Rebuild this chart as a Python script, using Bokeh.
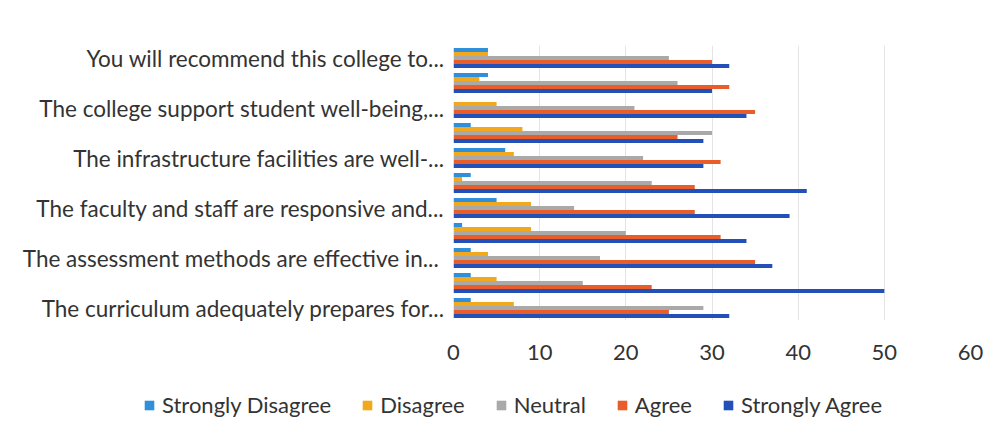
from bokeh.plotting import figure
from bokeh.layouts import column
from bokeh.models import Range1d, FixedTicker, Legend, LegendItem, ColumnDataSource
from bokeh.transform import dodge
from bokeh.embed import file_html
from bokeh.resources import INLINE

# Categories listed bottom -> top (11 survey items; only every other label is shown on the axis)
item_index = list(range(11))
tick_labels = [
    "The curriculum adequately prepares for...",
    "The assessment methods are  effective in...",
    "The faculty and staff are responsive and...",
    "The infrastructure facilities are well-...",
    "The college support student well-being,...",
    "You will recommend this college to...",
]
x_ticks = [0, 10, 20, 30, 40, 50, 60]

series_names = ["Strongly Disagree", "Disagree", "Neutral", "Agree", "Strongly Agree"]
strongly_disagree = [2, 2, 2, 1, 5, 2, 6, 2, 0, 4, 4]
disagree = [7, 5, 4, 9, 9, 1, 7, 8, 5, 3, 4]
neutral = [29, 15, 17, 20, 14, 23, 22, 30, 21, 26, 25]
agree = [25, 23, 35, 31, 28, 28, 31, 26, 35, 32, 30]
strongly_agree = [32, 50, 37, 34, 39, 41, 29, 29, 34, 30, 32]

colors = ["#2F8FDB", "#F2A81D", "#A9A9A9", "#E85D2A", "#2350B8"]
FONT = "Lato"
TEXT = "#333333"

source = ColumnDataSource(dict(
    y=item_index,
    sd=strongly_disagree, d=disagree, n=neutral, a=agree, sa=strongly_agree,
))
cols = ["sd", "d", "n", "a", "sa"]
offsets = [0.32, 0.16, 0.0, -0.16, -0.32]

# ---------------- main chart ----------------
p = figure(width=987, height=373,
           x_range=Range1d(0, 60), y_range=Range1d(-0.5, 10.5),
           output_backend="svg", toolbar_location=None,
           min_border_left=453, min_border_right=17,
           min_border_top=45, min_border_bottom=53)
p.outline_line_color = None
p.background_fill_color = "white"
p.border_fill_color = "white"

for col, off, c in zip(cols, offsets, colors):
    p.hbar(y=dodge("y", off, range=p.y_range), right=col, left=0, height=0.155,
           source=source, fill_color=c, line_color=None)

p.ygrid.visible = False
p.xgrid.ticker = FixedTicker(ticks=x_ticks)
p.xgrid.grid_line_color = "#E4E4E4"
p.xgrid.grid_line_width = 1

xa = p.xaxis[0]
xa.ticker = FixedTicker(ticks=x_ticks)
xa.axis_line_color = None
xa.major_tick_line_color = None
xa.minor_tick_line_color = None
xa.major_label_standoff = 18
xa.major_label_text_font = FONT
xa.major_label_text_font_size = "22px"
xa.major_label_text_color = TEXT

ya = p.yaxis[0]
label_ticks = item_index[::2]
ya.ticker = FixedTicker(ticks=label_ticks)
ya.major_label_overrides = {t: lab for t, lab in zip(label_ticks, tick_labels)}
ya.axis_line_color = None
ya.major_tick_line_color = None
ya.minor_tick_line_color = None
ya.major_label_standoff = 3
ya.major_label_text_font = FONT
ya.major_label_text_font_size = "22.5px"
ya.major_label_text_color = TEXT

# ---------------- legend strip ----------------
# Same bars, but the ranges keep them out of view; only the legend is seen.
lg = figure(width=987, height=56, x_range=Range1d(1000, 1001), y_range=Range1d(1000, 1001),
            output_backend="svg", toolbar_location=None,
            x_axis_type=None, y_axis_type=None,
            min_border=0, min_border_left=0, min_border_right=0,
            min_border_top=0, min_border_bottom=0)
lg.outline_line_color = None
lg.grid.visible = False
lg.border_fill_color = "white"
lg.background_fill_color = "white"
for fig in (p, lg):
    if "frame_align" in fig.properties():
        fig.frame_align = False

items = []
for name, col, c in zip(series_names, cols, colors):
    r = lg.hbar(y="y", right=col, left=0, height=0.155, source=source,
                fill_color=c, line_color=None)
    items.append(LegendItem(label=name, renderers=[r]))

legend = Legend(
    items=items,
    orientation="horizontal",
    location=(143, 11),
    border_line_color=None,
    background_fill_alpha=0,
    glyph_width=12, glyph_height=12,
    label_standoff=7, spacing=30,
    padding=0, margin=0,
    label_height=24,
    label_text_font=FONT,
    label_text_font_size="22px",
    label_text_color=TEXT,
)
lg.add_layout(legend)

layout = column(p, lg, spacing=0)
open("out.html", "w").write(file_html(layout, INLINE))
